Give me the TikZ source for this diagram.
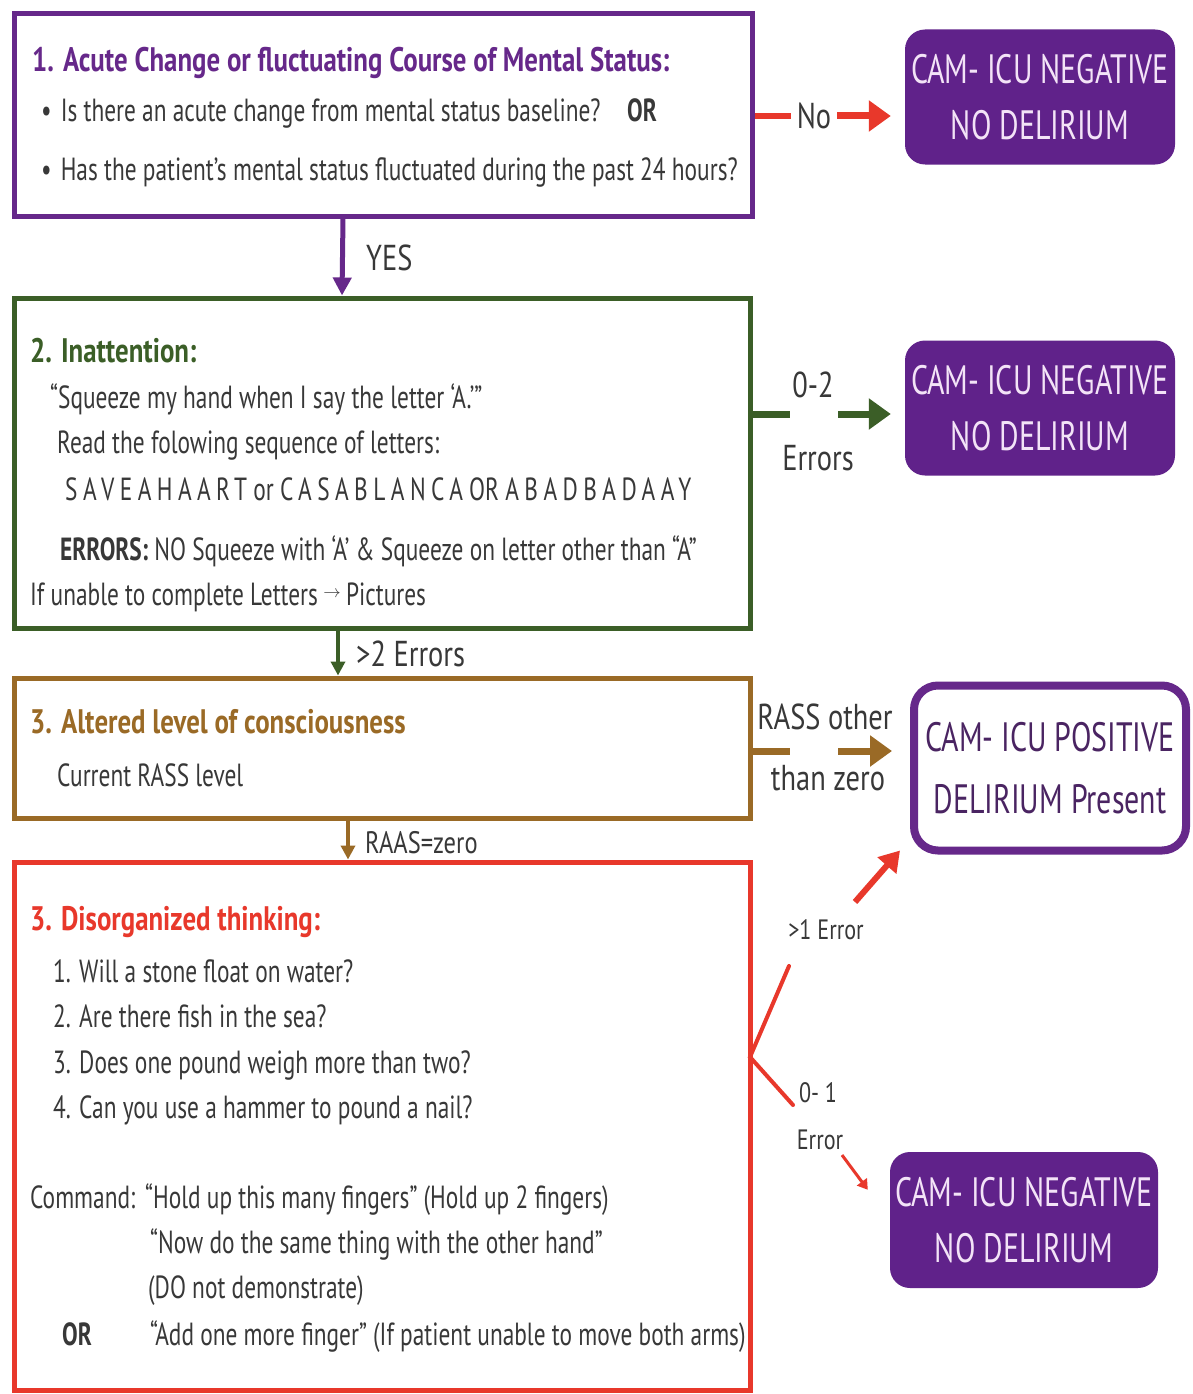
\documentclass[tikz,border=0pt]{standalone}
\usepackage{fontspec}
\usepackage{graphicx}
\setmainfont{PT Sans}[FakeStretch=0.73]
\newfontfamily\widefont{PT Sans}[FakeStretch=0.79]
\usetikzlibrary{arrows.meta}
\definecolor{cpur}{HTML}{66288A}
\definecolor{cpurfill}{HTML}{60228A}
\definecolor{cpurtxt}{HTML}{F3E3F7}
\definecolor{cpostxt}{HTML}{4A2462}
\definecolor{cgrn}{HTML}{3B5E27}
\definecolor{cbrn}{HTML}{9A6A26}
\definecolor{cred}{HTML}{E8382B}
\definecolor{ctxt}{HTML}{383838}
\tikzset{
  box/.style={draw, line width=5pt, minimum width=#1, inner sep=0pt},
  outbox/.style={fill=cpurfill, rounded corners=20pt, minimum width=270pt, minimum height=135pt, text=cpurtxt, align=center, font=\fontsize{41}{56}\selectfont, inner sep=0pt},
  tx/.style={anchor=base west, inner sep=0pt, text=ctxt, font=\fontsize{32}{32}\selectfont},
  ttl/.style={anchor=base west, inner sep=0pt, font=\widefont\fontsize{34}{34}\selectfont\bfseries},
  lbl/.style={inner sep=0pt, text=ctxt, font=\widefont\fontsize{36}{36}\selectfont},
  slbl/.style={inner sep=0pt, text=ctxt, font=\widefont\fontsize{28}{28}\selectfont},
  fat/.style={line width=#1},
}
\begin{document}
\begin{tikzpicture}[x=1pt,y=-1pt]
\useasboundingbox[fill=white] (0,0) rectangle (1192,1394);

% ---------- main boxes ----------
\node[box=738pt, minimum height=202pt, draw=cpur] (b1) at (383,115) {};
\node[box=736pt, minimum height=330pt, draw=cgrn] (b2) at (382,463) {};
\node[box=736pt, minimum height=140pt, draw=cbrn] (b3) at (382,748) {};
\node[box=736pt, minimum height=528pt, draw=cred] (b4) at (382,1126) {};

% ---------- outcome boxes ----------
\node[outbox] (n1) at (1040,97) {CAM- ICU NEGATIVE\\NO DELIRIUM};
\node[outbox] (n2) at (1040,408) {CAM- ICU NEGATIVE\\NO DELIRIUM};
\node[outbox, minimum width=268pt, minimum height=136pt] (n3) at (1024,1220) {CAM- ICU NEGATIVE\\NO DELIRIUM};
\node[draw=cpur, line width=8pt, fill=white, rounded corners=24pt, minimum width=272pt, minimum height=165pt, text=cpostxt, align=center, font=\fontsize{41}{62}\selectfont, inner sep=0pt] (pos) at (1050,768) {CAM- ICU POSITIVE\\DELIRIUM Present};

% ---------- box 1 text ----------
\node[ttl, text=cpur] (t1) at (32,72) {1. Acute Change or fluctuating Course of Mental Status:};
\node[tx] (t1a) at (41,122) {\textbullet\hspace{9pt}Is there an acute change from mental status baseline?};
\node[tx] (t1or) at (627,122) {\bfseries OR};
\node[tx] (t1b) at (41,180) {\textbullet\hspace{9pt}Has the patient’s mental status fluctuated during the past 24 hours?};

% ---------- box 2 text ----------
\node[ttl, text=cgrn] (t2) at (30,362) {2. Inattention:};
\node[tx] (t2a) at (50,408) {“Squeeze my hand when I say the letter ‘A.’”};
\node[tx] (t2b) at (57,453) {Read the folowing sequence of letters:};
\node[tx] (t2c) at (65,500) {{\addfontfeature{LetterSpace=17}SAVEAHAART} or {\addfontfeature{LetterSpace=17}CASABLANCA} OR {\addfontfeature{LetterSpace=17}ABADBADAAY}};
\node[tx] (t2d) at (60,560) {\bfseries ERRORS:\mdseries{} NO Squeeze with ‘A’ \& Squeeze on letter other than “A”};
\node[tx] (t2e) at (30,605) {If unable to complete Letters\,\raisebox{8pt}{\scalebox{0.7}{$\rightarrow$}}\,Pictures};

% ---------- box 3 text ----------
\node[ttl, text=cbrn] (t3) at (30,733) {3. Altered level of consciousness};
\node[tx] (t3a) at (57,786) {Current RASS level};

% ---------- box 4 text ----------
\node[ttl, text=cred] (t4) at (30,930) {3. Disorganized thinking:};
\node[tx] (q1) at (53,982) {1. Will a stone float on water?};
\node[tx] (q2) at (53,1027) {2. Are there fish in the sea?};
\node[tx] (q3) at (53,1073) {3. Does one pound weigh more than two?};
\node[tx] (q4) at (53,1118) {4. Can you use a hammer to pound a nail?};
\node[tx] (c0) at (30,1208) {Command:};
\node[tx] (c1) at (145,1208) {“Hold up this many fingers” (Hold up 2 fingers)};
\node[tx] (c2) at (150,1253) {“Now do the same thing with the other hand”};
\node[tx] (c3) at (148,1298) {(DO not demonstrate)};
\node[tx] (c4) at (62,1345) {\bfseries OR};
\node[tx] (c5) at (150,1345) {“Add one more finger” (If patient unable to move both arms)};

% ---------- connectors ----------
% No
\node[lbl] (lno) at (814,116) {No};
\draw[cred, fat=6pt] (b1.east |- lno) -- ([xshift=-6pt]lno.west);
\draw[cred, fat=7pt, -{Triangle[length=22pt,width=30pt]}] ([xshift=6pt]lno.east) -- ([xshift=-14pt]n1.west |- lno);

% YES
\node[lbl, anchor=west] (lyes) at (366,258) {YES};
\draw[cpur, fat=5pt, -{Triangle[length=18pt,width=18pt]}] ([xshift=-40pt]b1.south) -- ([xshift=-40pt]b2.north);

% 0-2 Errors
\node[lbl] (l02) at (813,385) {0-2};
\node[lbl] (lerr) at (818,458) {Errors};
\coordinate (g2) at (790,414);
\draw[cgrn, fat=7pt] (b2.east |- g2) -- (g2);
\draw[cgrn, fat=7pt, -{Triangle[length=22pt,width=30pt]}] (838,414) -- ([xshift=-14pt]n2.west |- g2);

% >2 Errors
\node[lbl, anchor=west] (l2e) at (356,654) {>2 Errors};
\draw[cgrn, fat=4pt, -{Triangle[length=14pt,width=14pt]}] ([xshift=-44pt]b2.south) -- ([xshift=-44pt]b3.north);

% RASS other than zero
\node[lbl] (lr1) at (825,717) {RASS other};
\node[lbl] (lr2) at (828,778) {than zero};
\coordinate (g3) at (790,751);
\draw[cbrn, fat=7pt] (b3.east |- g3) -- (g3);
\draw[cbrn, fat=7pt, -{Triangle[length=22pt,width=30pt]}] (838,751) -- ([xshift=-18pt]pos.west |- g3);

% RAAS=zero
\node[slbl, anchor=west, font=\widefont\fontsize{31}{31}\selectfont] (lrz) at (365,843) {RAAS=zero};
\draw[cbrn, fat=4pt, -{Triangle[length=14pt,width=14pt]}] ([xshift=-34pt]b3.south) -- ([xshift=-34pt]b4.north);

% disorganized thinking branches
\coordinate (apex) at (750,1057);
\coordinate (up) at (789,966);
\coordinate (dn) at (793,1105);
\draw[cred, fat=4pt, line cap=round] (up) -- (apex) -- (dn);
\node[slbl] (l1e) at (826,930) {>1 Error};
\draw[cred, fat=6pt, -{Triangle[length=20pt,width=24pt]}] (855,902) -- ([xshift=-10pt,yshift=4pt]pos.south west);
\node[slbl] (l01a) at (818,1093) {0- 1};
\node[slbl] (l01b) at (820,1140) {Error};
\draw[cred, fat=3pt, -{Triangle[length=10pt,width=12pt]}] (842,1155) -- ([xshift=-22pt,yshift=-38pt]n3.north west);
\end{tikzpicture}
\end{document}
